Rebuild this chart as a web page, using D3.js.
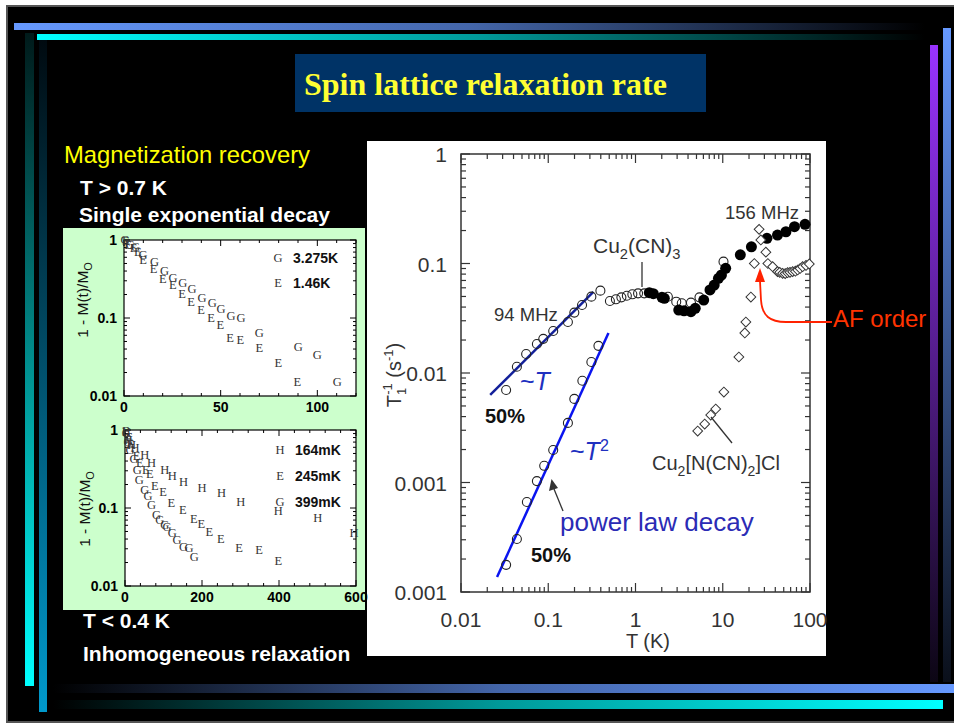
<!DOCTYPE html>
<html><head><meta charset="utf-8">
<script src="https://cdn.jsdelivr.net/npm/d3@7"></script>
<style>html,body{margin:0;padding:0;background:#fff;}svg{display:block;}</style>
</head><body>
<svg id="c" width="954" height="723"></svg>
<script>
// ---------- main chart: T1^-1 vs T (log-log) ----------
const xTickLabels = ["0.01", "0.1", "1", "10", "100"];
const yTickLabels = ["0.001", "0.001", "0.01", "0.1", "1"];

// Cu2(CN)3, 94 MHz, two-component fit (50% each)
const fastT    = [0.0329, 0.0437, 0.0558, 0.0741, 0.0877, 0.114, 0.168, 0.199, 0.244, 0.312, 0.396];
const fastRate = [0.0070, 0.0114, 0.0149, 0.0184, 0.0205, 0.0242, 0.0292, 0.0356, 0.0418, 0.0498, 0.0565];
const slowT    = [0.0329, 0.0437, 0.0569, 0.0741, 0.0899, 0.114, 0.168, 0.199, 0.246, 0.312, 0.376];
const slowRate = [1.77e-4, 3.05e-4, 6.64e-4, 1.03e-3, 1.42e-3, 1.98e-3, 3.5e-3, 5.8e-3, 8.5e-3, 0.0126, 0.0177];

// Cu2(CN)3, 94 MHz, single exponential
const openT    = [0.509, 0.596, 0.689, 0.796, 0.920, 1.07, 1.26, 2.35, 2.93, 3.39, 4.32, 5.41, 10.2];
const openRate = [0.0455, 0.0471, 0.0491, 0.0508, 0.0523, 0.0534, 0.0534, 0.0497, 0.0448, 0.0433, 0.0439, 0.0491, 0.104];

// Cu2(CN)3, 156 MHz
const filledT    = [1.44, 1.6, 2.01, 2.14, 3.13, 3.6, 4.32, 4.84, 6.05, 7.14, 7.98, 8.93, 9.66, 10.8, 15.9, 21.3, 32.1, 42.4, 53.0, 66.4, 87.7];
const filledRate = [0.0541, 0.053, 0.0491, 0.0481, 0.0376, 0.037, 0.0363, 0.0390, 0.0464, 0.0573, 0.0636, 0.0732, 0.0785, 0.0904, 0.120, 0.142, 0.170, 0.182, 0.195, 0.217, 0.228];

// Cu2[N(CN)2]Cl
const clT    = [5.16, 6.21, 7.28, 8.31, 10.3, 15.3, 17.9, 18.4, 21.0, 23.0, 26.1, 27.3, 31.2, 32.9, 37.3, 42.5, 45, 48.6, 52, 55.4, 59, 63.3, 68, 72.2, 77, 82.4, 90, 98.2];
const clRate = [0.00295, 0.00342, 0.00413, 0.00469, 0.00670, 0.0140, 0.0232, 0.0292, 0.0494, 0.100, 0.205, 0.164, 0.127, 0.100, 0.0935, 0.0842, 0.083, 0.0813, 0.081, 0.0824, 0.083, 0.0842, 0.085, 0.0872, 0.09, 0.0935, 0.096, 0.0990];

// power-law guide lines
const fitLinT    = [0.0216, 0.329];
const fitLinRate = [0.0063, 0.055];
const fitSqT     = [0.0259, 0.49];
const fitSqRate  = [1.37e-4, 0.0232];

// ---------- magnetization recovery insets ----------
const upperLabels  = ["3.275K", "1.46K"];
const upperSymbols = ["G", "E"];
const upperTG = [0.5, 3.3, 6, 9.8, 15.8, 21, 25.3, 30.4, 35.2, 40.4, 45.6, 50.2, 55.4, 60.5, 70, 90.2, 100, 110.3];
const upperMG = [1.0, 0.86, 0.82, 0.64, 0.53, 0.40, 0.33, 0.28, 0.233, 0.179, 0.157, 0.129, 0.106, 0.099, 0.065, 0.043, 0.0336, 0.0153];
const upperTE = [1, 2.1, 5, 7.2, 9.8, 15.3, 20.1, 25.3, 30.1, 34.7, 39.9, 45.1, 49.8, 54.8, 60.2, 70, 79.8, 89.7];
const upperME = [0.97, 0.86, 0.78, 0.71, 0.55, 0.43, 0.32, 0.265, 0.203, 0.162, 0.127, 0.099, 0.081, 0.0549, 0.0522, 0.0417, 0.0267, 0.0153];

const lowerLabels  = ["164mK", "245mK", "399mK"];
const lowerSymbols = ["H", "E", "G"];
const lowerTH = [3, 8.6, 17.2, 25.8, 51.6, 68.8, 103, 123, 152, 200, 251, 301, 398, 501, 595];
const lowerMH = [0.95, 0.74, 0.64, 0.58, 0.48, 0.38, 0.31, 0.26, 0.218, 0.179, 0.154, 0.118, 0.092, 0.0737, 0.0473];
const lowerTE = [2, 10.3, 14.6, 30, 38.7, 54, 64.4, 77.3, 98.8, 120, 150, 179, 198, 219, 249, 296, 348, 398];
const lowerME = [0.98, 0.82, 0.67, 0.46, 0.38, 0.31, 0.27, 0.19, 0.162, 0.115, 0.094, 0.0716, 0.0618, 0.0497, 0.0397, 0.0304, 0.029, 0.0209];
const lowerTG = [3, 8, 12.9, 23.2, 31.8, 36.9, 51.6, 60, 68.8, 81.7, 90, 103, 109, 123, 135, 152, 166, 180];
const lowerMG = [0.92, 0.7, 0.55, 0.43, 0.31, 0.23, 0.17, 0.143, 0.109, 0.081, 0.070, 0.0605, 0.0565, 0.0473, 0.0389, 0.0319, 0.0304, 0.0238];

const zip = (a, b) => a.map((v, i) => [v, b[i]]);
const SANS = "Arial, 'Liberation Sans', Helvetica, sans-serif";
const SERIF = "'Times New Roman', 'Liberation Serif', serif";

const svg = d3.select("#c");
const defs = svg.append("defs");
function grad(id, x2, y2, stops) {
  const g = defs.append("linearGradient").attr("id", id)
    .attr("x1", 0).attr("y1", 0).attr("x2", x2).attr("y2", y2);
  stops.forEach(([o, c]) => g.append("stop").attr("offset", o).attr("stop-color", c));
}
grad("gTopBlue", 1, 0, [[0, "#6699ff"], [0.5, "#4466aa"], [1, "#000000"]]);
grad("gTopCyan", 1, 0, [[0, "#00ffff"], [0.5, "#009999"], [1, "#000000"]]);
grad("gBotBlue", 1, 0, [[0, "#000000"], [0.5, "#4466aa"], [1, "#6699ff"]]);
grad("gBotCyan", 1, 0, [[0, "#000000"], [0.5, "#009999"], [1, "#00ffff"]]);
grad("gLeftCyan", 0, 1, [[0, "#001a1a"], [1, "#00ffff"]]);
grad("gLeftBlue", 0, 1, [[0, "#000a10"], [1, "#0099cc"]]);
grad("gRightPurple", 0, 1, [[0, "#9933ff"], [1, "#0c0614"]]);
grad("gRightBlue", 0, 1, [[0, "#6699ff"], [1, "#0a0f1a"]]);

// slide background and frame
svg.append("rect").attr("width", 954).attr("height", 723).attr("fill", "#fff");
svg.append("rect").attr("x", 7).attr("y", 6).attr("width", 948).attr("height", 716)
  .attr("fill", "#000").attr("stroke", "#555").attr("stroke-width", 2);

// decorative bars
const bars = [
  [14, 23, 911, 7, "gTopBlue"], [37, 34, 888, 6, "gTopCyan"],
  [25, 33, 9, 653, "gLeftCyan"], [39, 40, 8, 672, "gLeftBlue"],
  [930, 45, 8, 637, "gRightPurple"], [943, 28, 8, 654, "gRightBlue"],
  [53, 684, 901, 9, "gBotBlue"], [53, 700, 890, 9, "gBotCyan"]
];
svg.append("g").selectAll("rect").data(bars).join("rect")
  .attr("x", d => d[0]).attr("y", d => d[1]).attr("width", d => d[2]).attr("height", d => d[3])
  .attr("fill", d => `url(#${d[4]})`);

// title
svg.append("rect").attr("x", 295).attr("y", 54).attr("width", 411).attr("height", 58).attr("fill", "#003366");
svg.append("text").attr("x", 304).attr("y", 95).attr("font-family", SERIF).attr("font-weight", "bold")
  .attr("font-size", 32).attr("fill", "#ffff33").text("Spin lattice relaxation rate");

// left captions
svg.append("text").attr("x", 64).attr("y", 163).attr("font-family", SANS).attr("font-size", 23.8)
  .attr("fill", "#ffff00").text("Magnetization recovery");
const cap = [["T > 0.7 K", 80, 195], ["Single exponential decay", 79, 222], ["T < 0.4 K", 83, 628], ["Inhomogeneous relaxation", 83, 661]];
svg.append("g").selectAll("text").data(cap).join("text")
  .attr("x", d => d[1]).attr("y", d => d[2]).attr("font-family", SANS).attr("font-weight", "bold")
  .attr("font-size", 21).attr("fill", "#fff").text(d => d[0]);

// white panel of the main chart (drawn first so inset labels can sit on its edge)
svg.append("rect").attr("x", 367).attr("y", 141).attr("width", 459).attr("height", 515).attr("fill", "#fff");

// green inset panel
svg.append("rect").attr("x", 63).attr("y", 228).attr("width", 302).attr("height", 382).attr("fill", "#ccffcc");

function inset(cfg) {
  const g = svg.append("g");
  const x = d3.scaleLinear().domain(cfg.xDomain).range([cfg.left, cfg.right]);
  const y = d3.scaleLog().domain([0.01, 1]).range([cfg.bottom, cfg.top]);
  const [L, R] = x.range(), [B, T] = y.range();
  g.append("rect").attr("x", L).attr("y", T).attr("width", R - L).attr("height", B - T).attr("fill", "#fff");
  // ticks
  const xt = d3.range(cfg.xDomain[0], cfg.xDomain[1] + 1e-9, cfg.minor);
  const isMajX = d => Math.abs(d / cfg.major - Math.round(d / cfg.major)) < 1e-9;
  const tk = g.append("g").attr("stroke", "#000").attr("stroke-width", 1);
  xt.forEach(d => {
    const len = isMajX(d) ? 6 : 3;
    tk.append("line").attr("x1", x(d)).attr("x2", x(d)).attr("y1", B).attr("y2", B - len);
    tk.append("line").attr("x1", x(d)).attr("x2", x(d)).attr("y1", T).attr("y2", T + len);
  });
  y.ticks().forEach(d => {
    const maj = Math.abs(Math.log10(d) - Math.round(Math.log10(d))) < 1e-9;
    const len = maj ? 6 : 3;
    tk.append("line").attr("x1", L).attr("x2", L + len).attr("y1", y(d)).attr("y2", y(d));
    tk.append("line").attr("x1", R).attr("x2", R - len).attr("y1", y(d)).attr("y2", y(d));
  });
  g.append("rect").attr("x", L).attr("y", T).attr("width", R - L).attr("height", B - T)
    .attr("fill", "none").attr("stroke", "#000").attr("stroke-width", 1.2);
  // tick labels
  g.append("g").selectAll("text").data(cfg.xLabels).join("text")
    .attr("x", d => x(d)).attr("y", B + 16).attr("text-anchor", "middle")
    .attr("font-family", SANS).attr("font-weight", "bold").attr("font-size", 14).attr("fill", "#000").text(d => d);
  g.append("g").selectAll("text").data([["1", 1], ["0.1", 0.1], ["0.01", 0.01]]).join("text")
    .attr("x", L - 7).attr("y", d => y(d[1]) + 5).attr("text-anchor", "end")
    .attr("font-family", SANS).attr("font-weight", "bold").attr("font-size", 14).attr("fill", "#000").text(d => d[0]);
  // axis title
  const yt = g.append("text").attr("transform", `translate(${cfg.titleX},${cfg.titleY}) rotate(-90)`)
    .attr("text-anchor", "middle").attr("font-family", SANS).attr("font-size", 15.5).attr("fill", "#111");
  yt.append("tspan").text("1 - M(t)/M");
  yt.append("tspan").attr("dy", 4).attr("font-size", 11).text("O");
  // series as letter markers
  cfg.series.forEach(s => {
    g.append("g").selectAll("text").data(zip(s.t, s.m)).join("text")
      .attr("x", d => x(d[0])).attr("y", d => y(d[1])).attr("text-anchor", "middle")
      .attr("dominant-baseline", "central").attr("font-family", SERIF).attr("font-size", 12.5)
      .attr("fill", "#333").text(s.sym);
  });
  // legend
  cfg.legend.forEach((l, i) => {
    const ly = cfg.legendY + i * cfg.legendStep;
    g.append("text").attr("x", cfg.legendX).attr("y", ly).attr("text-anchor", "middle")
      .attr("dominant-baseline", "central").attr("font-family", SERIF).attr("font-size", 12.5)
      .attr("fill", "#333").text(l[0]);
    g.append("text").attr("x", cfg.legendX + 15).attr("y", ly + 5).attr("font-family", SANS)
      .attr("font-weight", "bold").attr("font-size", 14).attr("fill", "#111").text(l[1]);
  });
}

inset({
  xDomain: [0, 120], left: 124, right: 356, top: 240, bottom: 396, major: 50, minor: 10,
  xLabels: [0, 50, 100], titleX: 88, titleY: 300,
  series: [{ sym: upperSymbols[1], t: upperTE, m: upperME }, { sym: upperSymbols[0], t: upperTG, m: upperMG }],
  legend: zip(upperSymbols, upperLabels), legendX: 278, legendY: 258, legendStep: 24.5
});
inset({
  xDomain: [0, 600], left: 125, right: 356, top: 430, bottom: 586, major: 200, minor: 40,
  xLabels: [0, 200, 400, 600], titleX: 90, titleY: 509,
  series: [{ sym: lowerSymbols[0], t: lowerTH, m: lowerMH }, { sym: lowerSymbols[1], t: lowerTE, m: lowerME },
           { sym: lowerSymbols[2], t: lowerTG, m: lowerMG }],
  legend: zip(lowerSymbols, lowerLabels), legendX: 280, legendY: 450, legendStep: 26
});

// ---------- main panel ----------
const mx = d3.scaleLog().domain([0.01, 100]).range([461, 810]);
const my = d3.scaleLog().domain([1e-4, 1]).range([592, 154]);
const [X0, X1] = mx.range(), [Y0, Y1] = my.range();
const isMaj = d => Math.abs(Math.log10(d) - Math.round(Math.log10(d))) < 1e-9;
const main = svg.append("g");
const mt = main.append("g").attr("stroke", "#333").attr("stroke-width", 1.2);
mx.ticks().forEach(d => {
  const len = isMaj(d) ? 9 : 5;
  mt.append("line").attr("x1", mx(d)).attr("x2", mx(d)).attr("y1", Y0).attr("y2", Y0 - len);
  mt.append("line").attr("x1", mx(d)).attr("x2", mx(d)).attr("y1", Y1).attr("y2", Y1 + len);
});
my.ticks().forEach(d => {
  const len = isMaj(d) ? 9 : 5;
  mt.append("line").attr("x1", X0).attr("x2", X0 + len).attr("y1", my(d)).attr("y2", my(d));
  mt.append("line").attr("x1", X1).attr("x2", X1 - len).attr("y1", my(d)).attr("y2", my(d));
});
main.append("rect").attr("x", X0).attr("y", Y1).attr("width", X1 - X0).attr("height", Y0 - Y1)
  .attr("fill", "none").attr("stroke", "#333").attr("stroke-width", 1.5);

const xMaj = mx.ticks().filter(isMaj), yMaj = my.ticks().filter(isMaj);
main.append("g").selectAll("text").data(xMaj).join("text")
  .attr("x", d => mx(d)).attr("y", 627).attr("text-anchor", "middle")
  .attr("font-family", SANS).attr("font-size", 21).attr("fill", "#333").text((d, i) => xTickLabels[i]);
main.append("g").selectAll("text").data(yMaj).join("text")
  .attr("x", 447).attr("y", d => my(d) + 8).attr("text-anchor", "end")
  .attr("font-family", SANS).attr("font-size", 21).attr("fill", "#333").text((d, i) => yTickLabels[i]);
main.append("text").attr("x", 648).attr("y", 648).attr("text-anchor", "middle")
  .attr("font-family", SANS).attr("font-size", 20).attr("fill", "#333").text("T (K)");

// y axis title T1^-1 (s^-1)
const ylab = main.append("text").attr("transform", "translate(401,375) rotate(-90)")
  .attr("text-anchor", "middle").attr("font-family", SANS).attr("font-size", 20).attr("fill", "#333");
ylab.append("tspan").text("T");
ylab.append("tspan").attr("font-size", 13).attr("dy", 5).text("1");
ylab.append("tspan").attr("font-size", 13).attr("dx", -7).attr("dy", -14).text("-1");
ylab.append("tspan").attr("dy", 9).text(" (s");
ylab.append("tspan").attr("font-size", 13).attr("dy", -8).text("-1");
ylab.append("tspan").attr("dy", 8).text(")");

// guide lines
const line = d3.line().x(d => mx(d[0])).y(d => my(d[1]));
main.append("path").attr("d", line(zip(fitLinT, fitLinRate))).attr("stroke", "#13209a").attr("stroke-width", 2.5).attr("fill", "none");
main.append("path").attr("d", line(zip(fitSqT, fitSqRate))).attr("stroke", "#0a14f0").attr("stroke-width", 2.5).attr("fill", "none");

// open circles
const openAll = zip(fastT, fastRate).concat(zip(slowT, slowRate), zip(openT, openRate));
main.append("g").selectAll("circle").data(openAll).join("circle")
  .attr("cx", d => mx(d[0])).attr("cy", d => my(d[1])).attr("r", 4.5)
  .attr("fill", "none").attr("stroke", "#222").attr("stroke-width", 1.1);
// filled circles
main.append("g").selectAll("circle").data(zip(filledT, filledRate)).join("circle")
  .attr("cx", d => mx(d[0])).attr("cy", d => my(d[1])).attr("r", 5.5).attr("fill", "#000");
// diamonds
const diamond = d3.symbol().type(d3.symbolSquare).size(48)();
main.append("g").selectAll("path").data(zip(clT, clRate)).join("path")
  .attr("d", diamond).attr("transform", d => `translate(${mx(d[0])},${my(d[1])}) rotate(45)`)
  .attr("fill", "#fff").attr("stroke", "#333").attr("stroke-width", 1);

// annotations
function chem(x, y, parts, size, fill) {
  const t = main.append("text").attr("x", x).attr("y", y).attr("font-family", SANS)
    .attr("font-size", size).attr("fill", fill);
  let shifted = false;
  parts.forEach(([s, sub]) => {
    const ts = t.append("tspan").text(s);
    if (sub && !shifted) { ts.attr("dy", size * 0.3).attr("font-size", size * 0.7); shifted = true; }
    else if (sub) { ts.attr("font-size", size * 0.7); }
    else if (shifted) { ts.attr("dy", -size * 0.3); shifted = false; }
  });
  return t;
}
main.append("text").attr("x", 494).attr("y", 321).attr("font-family", SANS).attr("font-size", 18.5).attr("fill", "#333").text("94 MHz");
main.append("text").attr("x", 725).attr("y", 219).attr("font-family", SANS).attr("font-size", 18.5).attr("fill", "#333").text("156 MHz");
chem(593, 253, [["Cu", 0], ["2", 1], ["(CN)", 0], ["3", 1]], 21, "#333");
main.append("line").attr("x1", 642).attr("x2", 642).attr("y1", 262).attr("y2", 287).attr("stroke", "#333").attr("stroke-width", 1.3);
chem(652, 470, [["Cu", 0], ["2", 1], ["[N(CN)", 0], ["2", 1], ["]Cl", 0]], 20, "#333");
main.append("line").attr("x1", 711).attr("x2", 732).attr("y1", 417).attr("y2", 443).attr("stroke", "#333").attr("stroke-width", 1.3);

const tl = main.append("text").attr("x", 520).attr("y", 390).attr("font-family", SANS).attr("font-size", 25).attr("fill", "#2030c0");
tl.append("tspan").text("~");
tl.append("tspan").attr("font-style", "italic").text("T");
const tq = main.append("text").attr("x", 570).attr("y", 460).attr("font-family", SANS).attr("font-size", 25).attr("fill", "#2030c0");
tq.append("tspan").text("~");
tq.append("tspan").attr("font-style", "italic").text("T");
tq.append("tspan").attr("font-size", 16).attr("dy", -9).text("2");
main.append("text").attr("x", 485).attr("y", 423).attr("font-family", SANS).attr("font-weight", "bold").attr("font-size", 20).attr("fill", "#111").text("50%");
main.append("text").attr("x", 531).attr("y", 562).attr("font-family", SANS).attr("font-weight", "bold").attr("font-size", 20).attr("fill", "#111").text("50%");
main.append("text").attr("x", 560).attr("y", 531).attr("font-family", SANS).attr("font-size", 26).attr("fill", "#2b2bb5").text("power law decay");

// small arrow to the T^2 line
main.append("line").attr("x1", 563).attr("y1", 511).attr("x2", 554).attr("y2", 489).attr("stroke", "#333").attr("stroke-width", 1.3);
main.append("path").attr("d", "M551.5,479 L549,491 L558,488 Z").attr("fill", "#333");

// AF order label with red arrow (extends past the white panel)
svg.append("path").attr("d", "M832,322 L786,322 C770,322 762,316 761,300 L760,281")
  .attr("fill", "none").attr("stroke", "#ff2200").attr("stroke-width", 1.8);
svg.append("path").attr("d", "M760,268 L755,282 L765,282 Z").attr("fill", "#ff2200");
svg.append("text").attr("x", 833).attr("y", 327).attr("font-family", SANS).attr("font-size", 24)
  .attr("fill", "#ff3300").text("AF order");
</script>
</body></html>
